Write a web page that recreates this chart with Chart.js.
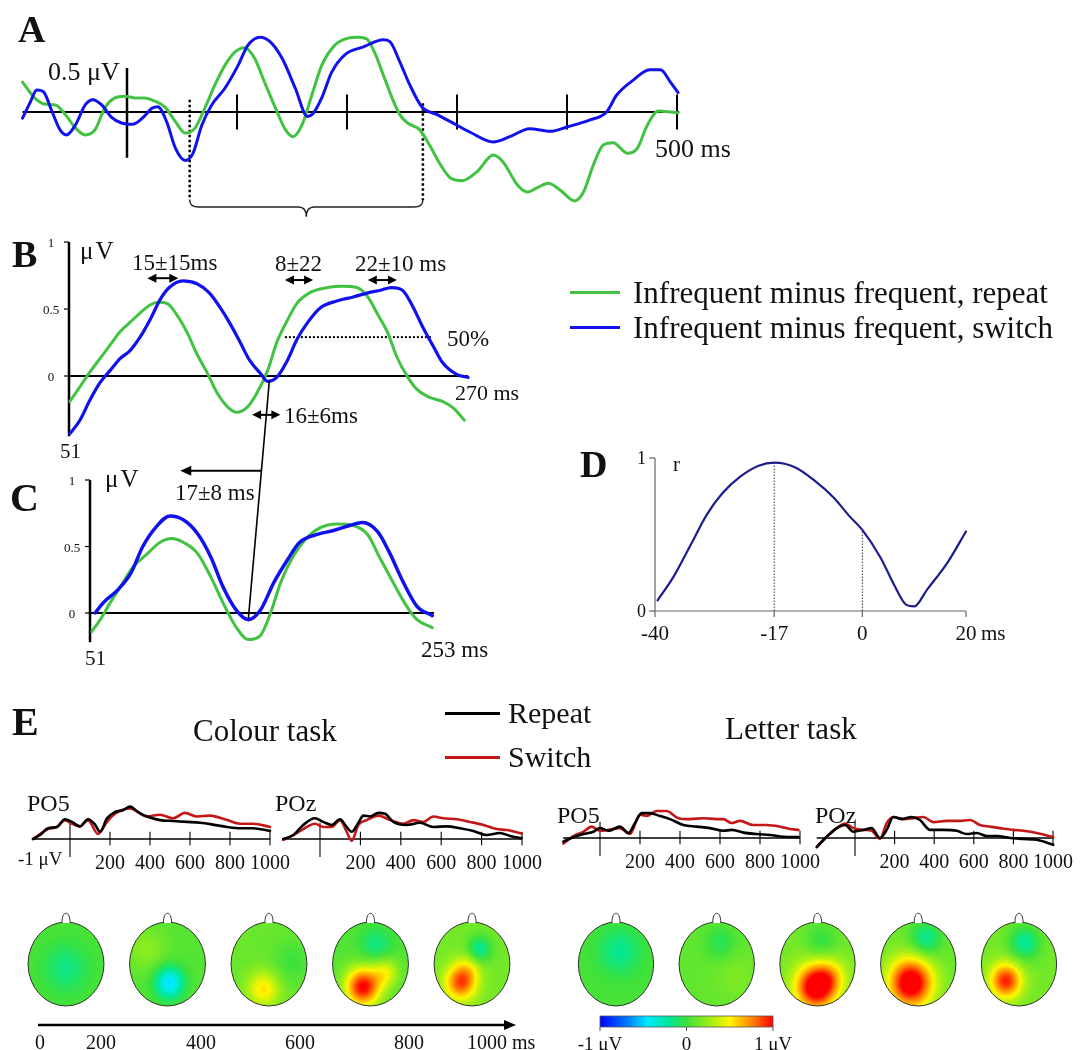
<!DOCTYPE html>
<html><head><meta charset="utf-8">
<script src="https://cdn.jsdelivr.net/npm/chart.js@4.4.0/dist/chart.umd.min.js"></script>
<style>
html,body{margin:0;padding:0;background:#fff;overflow:hidden;}
#stage{position:relative;width:1086px;height:1050px;overflow:hidden;font-family:"Liberation Serif","Times New Roman",serif;color:#111;}
#stage canvas{position:absolute;}
.t{position:absolute;white-space:nowrap;line-height:1;}
.sw{position:absolute;height:3px;}
</style></head>
<body><div id="stage"></div>
<script>
// ---------------- DATA ----------------
// Panel A (ms, µV)
const tA_repeat = [-95,-84,-75,-65,-56,-47,-38,-29,-20,-11,-2,7,16,25,35,44,53,62,71,80,89,98,107,116,125,135,144,151,159,168,177,189,201,210,218,225,233,241,248,255,266,275,285,294,305,318,333,342,355,364,373,383,394,407,415,424,433,442,455,464,473,483,494,501];
const vA_repeat = [0.34,0.16,0.09,0.08,-0.03,-0.18,-0.26,-0.2,0.05,0.16,0.18,0.16,0.16,0.125,0.05,-0.11,-0.24,-0.18,0.05,0.31,0.53,0.68,0.73,0.61,0.34,0.045,-0.2,-0.28,-0.15,0.19,0.53,0.76,0.84,0.85,0.83,0.68,0.42,0.16,-0.03,-0.125,-0.2,-0.375,-0.6,-0.75,-0.78,-0.68,-0.49,-0.57,-0.83,-0.91,-0.86,-0.81,-0.89,-1.01,-0.91,-0.6,-0.375,-0.35,-0.47,-0.41,-0.15,0.01,0,-0.01];
const tA_switch = [-95,-88,-82,-76,-68,-61,-55,-47,-38,-31,-23,-14,-5,5,14,23,28,36,44,53,60,68,77,89,101,110,121,130,141,153,164,169,177,186,198,215,233,239,248,257,268,282,294,312,333,348,366,385,400,421,436,445,460,475,485,494,501];
const vA_switch = [-0.07,0.11,0.25,0.23,0,-0.2,-0.26,-0.15,0.08,0.14,0.08,-0.06,-0.125,-0.14,-0.07,0.045,0.06,-0.11,-0.41,-0.55,-0.47,-0.15,0.08,0.27,0.53,0.76,0.85,0.8,0.61,0.27,-0.05,-0.02,0.16,0.45,0.65,0.74,0.82,0.8,0.57,0.31,0.06,-0.03,-0.11,-0.23,-0.34,-0.28,-0.19,-0.22,-0.17,-0.09,0,0.19,0.36,0.48,0.48,0.34,0.22];
const ticksA = [100,200,300,400,500];
const windowA = [57,269];

// Panel B
const tB_repeat = [51.5,57,62.5,68,73.5,79,84.5,90,95.5,100,105,110,116,121,127,132,138,143,149,154,160,165,171,176,183,193,201,209,215,220,226,231,237,242,249,256,262,268];
const vB_repeat = [-0.19,-0.08,0.03,0.13,0.23,0.33,0.4,0.47,0.53,0.55,0.54,0.46,0.32,0.17,0.02,-0.12,-0.23,-0.27,-0.23,-0.13,0.04,0.25,0.42,0.54,0.62,0.66,0.67,0.66,0.59,0.47,0.32,0.14,-0.01,-0.1,-0.16,-0.19,-0.24,-0.33];
const tB_switch = [51.5,57,62.5,68,73.5,79,84.5,90,95.5,101,106,113.5,121,128,134,139,145,150,156,160,165,171,176,182,189,198,207,215,222,228,234,240,245,251,256,264,270];
const vB_switch = [-0.43,-0.33,-0.18,-0.05,0.04,0.13,0.19,0.29,0.42,0.57,0.66,0.71,0.69,0.62,0.51,0.4,0.25,0.12,0.02,-0.04,-0.01,0.12,0.27,0.4,0.51,0.56,0.59,0.62,0.64,0.66,0.64,0.51,0.37,0.22,0.1,0.01,-0.01];
const yTicksBC = [0,0.5,1];
const halfMaxB = [169.5,250,0.29];
const arrowsB = [[94,111,0.73],[169.5,185,0.716],[215,231,0.716],[151.5,167,-0.29]];

// Panel C
const tC_repeat = [52,57,63,69,76,85,92,99,106,114,122,129,137,144,151,157,163,170,178,186,196,205,214,221,229,237,243,252];
const vC_repeat = [-0.14,-0.05,0.08,0.2,0.34,0.45,0.53,0.56,0.53,0.45,0.27,0.08,-0.11,-0.2,-0.17,0,0.23,0.42,0.56,0.64,0.67,0.66,0.59,0.42,0.23,0.05,-0.05,-0.11];
const tC_switch = [54,59,67,75,82,90,98,106,114,122,129,137,144,151,159,167,174,184,194,204,211,220,227,235,243,252];
const vC_switch = [0,0.08,0.17,0.3,0.5,0.65,0.73,0.7,0.6,0.42,0.2,0.02,-0.05,0.02,0.23,0.4,0.53,0.59,0.62,0.66,0.68,0.61,0.45,0.23,0.05,-0.02];

// Panel D (lag ms, r)
const lagD = [-39.5,-36.5,-33,-30,-27,-23.5,-20,-17,-13,-9.5,-5.5,-2.5,0,3.5,6,8.5,10,12.5,16.5,20];
const rD = [0.07,0.22,0.44,0.63,0.77,0.88,0.95,0.97,0.94,0.86,0.74,0.62,0.53,0.35,0.18,0.04,0.03,0.14,0.32,0.52];
const xTicksD = [-40,-17,0,20];
const yTicksD = [0,1];
const markersD = [[-17,0.97],[0,0.53]];

// Panel E waveforms (ms, µV)
const tE_cPO5_rep = [-185,-150,-110,-65,-25,10,50,90,125,150,185,225,265,300,340,385,450,515,585,650,715,785,850,915,1000];
const vE_cPO5_rep = [0,0.22,0.6,0.67,1.1,0.95,0.7,1.1,0.8,0.4,1.15,1.5,1.6,1.8,1.5,1.25,1.05,1.0,0.95,0.9,0.8,0.67,0.6,0.6,0.45];
const tE_cPO5_sw = [-185,-110,-65,-25,10,50,90,140,185,225,300,385,450,515,575,635,700,785,850,915,1000];
const vE_cPO5_sw = [0,0.55,0.67,1.05,0.85,0.7,1.05,0.28,0.95,1.4,1.7,1.25,1.35,1.15,1.45,1.25,1.3,1.05,0.85,0.85,0.67];
const tE_cPOz_rep = [-182,-132,-83,-25,16,58,99,132,157,190,215,248,289,322,363,429,495,561,627,693,759,825,891,941,998];
const vE_cPOz_rep = [0,0.22,0.78,1.15,0.95,0.78,1.1,0.67,0.4,0.9,1.3,1.25,1.45,1.4,0.95,0.78,0.9,0.67,0.7,0.6,0.45,0.22,0.33,0.17,0.05];
const tE_cPOz_sw = [-182,-132,-83,-25,16,58,99,132,157,190,231,289,347,413,462,512,561,611,677,743,809,875,924,998];
const vE_cPOz_sw = [-0.05,0.22,0.55,0.85,0.67,0.67,1.05,0.4,-0.1,0.78,1.05,1.3,1.05,0.85,1.05,0.95,1.25,1.15,1.1,0.95,0.78,0.55,0.5,0.3];
const tE_lPO5_rep = [-183,-133,-83,-33,0,42,100,142,175,208,250,300,350,417,483,550,617,658,717,783,850,917,992];
const vE_lPO5_rep = [-0.2,0.05,0.22,0.35,0.55,0.4,0.63,0.28,0.83,1.38,1.38,1.22,1.05,0.72,0.63,0.55,0.4,0.45,0.3,0.22,0.17,0.07,0.05];
const tE_lPO5_sw = [-183,-133,-83,-42,0,42,100,150,200,233,283,333,392,450,517,583,617,658,700,767,833,900,950,992];
const vE_lPO5_sw = [-0.3,0.1,0.35,0.63,0.4,0.45,0.55,0.22,1.3,1.22,1.5,1.5,1.1,1.05,1.1,1.05,1.05,0.83,0.95,0.72,0.72,0.63,0.5,0.45];
const tE_lPOz_rep = [-193,-143,-92,-50,-8,42,84,126,160,193,236,286,328,379,446,514,564,615,665,716,783,850,918,1001];
const vE_lPOz_rep = [-0.5,0.07,0.55,0.72,0.35,0.45,0.55,0,0.45,1.17,1.05,1.17,1.0,0.45,0.45,0.4,0.22,0.28,0.11,0.11,0,-0.05,-0.1,-0.38];
const tE_lPOz_sw = [-193,-143,-92,-50,-8,42,84,126,160,193,244,295,345,396,463,530,581,631,682,732,800,850,918,1001];
const vE_lPOz_sw = [-0.5,0.07,0.55,0.8,0.55,0.45,0.4,-0.05,0.83,1.17,1.05,1.1,1.17,0.88,0.95,0.95,1.0,0.72,0.63,0.55,0.45,0.4,0.28,0.05];
const ticksE = [200,400,600,800,1000];

// Panel E topographies: base level + blobs [x, y, spread, amplitude] (head coords, µV)
const topoColourBase = [0.04,0.07,0.12,0.06,0.15];
const topoColourBlobs = [
  [[0.0,-0.1,0.4,-0.2]],
  [[0.05,-0.45,0.27,-0.55],[-0.55,0.35,0.35,0.15]],
  [[-0.15,-0.6,0.3,0.42],[0.6,0.05,0.35,-0.12]],
  [[-0.2,-0.55,0.33,0.95],[0.4,-0.2,0.25,0.35],[0.15,0.45,0.3,-0.22]],
  [[-0.3,-0.45,0.3,0.7],[-0.1,-0.1,0.25,0.2],[0.2,0.35,0.22,-0.36]]
];
const topoLetterBase = [0.03,0.1,0.15,0.12,0.15];
const topoLetterBlobs = [
  [[0.1,0.3,0.38,-0.22]],
  [[0.1,0.5,0.28,-0.17],[0.5,-0.3,0.4,0.08]],
  [[-0.05,-0.55,0.38,1.0],[0.35,-0.3,0.3,0.3],[0.1,0.55,0.3,-0.18]],
  [[-0.2,-0.45,0.42,1.05],[0.2,0.6,0.28,-0.32]],
  [[-0.35,-0.4,0.3,0.8],[0.15,0.5,0.28,-0.36]]
];
const timeAxisLabels = ['0','200','400','600','800','1000 ms'];

// ---------------- STYLE ----------------
const GREEN = '#42c242', BLUE = '#1111ee', RED = '#c41818', BLACK = '#000', NAVY = '#1c1c8c';
const cmapStops = [[-1,[0,0,255]],[-0.65,[0,140,255]],[-0.45,[0,235,255]],[-0.2,[0,232,150]],[0,[60,225,60]],[0.3,[170,240,20]],[0.5,[255,245,0]],[0.75,[255,135,0]],[1,[255,0,0]]];
function jet(v){
  v = Math.max(-1, Math.min(1, v));
  for (let i=1;i<cmapStops.length;i++){
    if (v <= cmapStops[i][0]){
      const a = cmapStops[i-1], b = cmapStops[i], f = (v-a[0])/(b[0]-a[0]);
      return [0,1,2].map(k => Math.round(a[1][k] + f*(b[1][k]-a[1][k])));
    }
  }
  return cmapStops[cmapStops.length-1][1];
}

const stage = document.getElementById('stage');
const PAD = 14;
function makeChart(m, datasets, draw) {
  const L = m.x0 + m.xmin*m.xs, R = m.x0 + m.xmax*m.xs;
  const T = m.y0 - m.ymax*m.ys, B = m.y0 - m.ymin*m.ys;
  const left = Math.round(L - PAD), top = Math.round(T - PAD);
  const w = Math.round(R + PAD) - left, h = Math.round(B + PAD) - top;
  const cv = document.createElement('canvas');
  cv.width = w; cv.height = h;
  cv.style.left = left+'px'; cv.style.top = top+'px'; cv.style.width = w+'px'; cv.style.height = h+'px';
  stage.appendChild(cv);
  const padding = {left: L-left, top: T-top, right: left+w-R, bottom: top+h-B};
  const plug = [];
  if (draw) plug.push({id:'deco', beforeDatasetsDraw(c){ const X=v=>c.scales.x.getPixelForValue(v), Y=v=>c.scales.y.getPixelForValue(v); c.ctx.save(); draw(c.ctx,X,Y,c); c.ctx.restore(); }});
  const chart = new Chart(cv, {type:'line', data:{datasets}, options:{
    responsive:false, animation:false, events:[], devicePixelRatio:1,
    layout:{padding},
    plugins:{legend:{display:false}, tooltip:{enabled:false}},
    scales:{x:{type:'linear',display:false,min:m.xmin,max:m.xmax}, y:{type:'linear',display:false,min:m.ymin,max:m.ymax}}
  }, plugins: plug});
  chart.pageX = v => left + chart.scales.x.getPixelForValue(v);
  chart.pageY = v => top + chart.scales.y.getPixelForValue(v);
  return chart;
}
function series(ts, vs, color, width){
  return {data: ts.map((t,i)=>({x:t, y:vs[i]})), borderColor: color, borderWidth: width, pointRadius:0,
    fill:false, cubicInterpolationMode:'monotone', clip:false, borderJoinStyle:'round', borderCapStyle:'round'};
}
function ln(ctx,x1,y1,x2,y2,w,color,dash){
  ctx.beginPath(); ctx.setLineDash(dash||[]); ctx.lineWidth=w; ctx.strokeStyle=color||'#000';
  ctx.moveTo(x1,y1); ctx.lineTo(x2,y2); ctx.stroke(); ctx.setLineDash([]);
}
function head(ctx,x,y,dir,len,hw){
  ctx.beginPath(); ctx.moveTo(x,y); ctx.lineTo(x-dir*len,y-hw); ctx.lineTo(x-dir*len,y+hw); ctx.closePath(); ctx.fillStyle='#000'; ctx.fill();
}
function dblArrow(ctx,x1,x2,y){
  ln(ctx,x1+6,y,x2-6,y,2);
  head(ctx,x1,y,-1,9,4.5); head(ctx,x2,y,1,9,4.5);
}
function label(text,x,y,size,o){
  o = o||{};
  const d = document.createElement('div'); d.className='t'; d.textContent=text;
  d.style.left=x+'px'; d.style.top=y+'px'; d.style.fontSize=size+'px';
  const tx = o.align==='center' ? '-50%' : o.align==='right' ? '-100%' : '0';
  d.style.transform = `translate(${tx},-50%)`;
  if (o.bold) d.style.fontWeight='bold';
  if (o.ls) d.style.letterSpacing=o.ls+'px';
  stage.appendChild(d); return d;
}
function swatch(x1,x2,y,color){
  const d=document.createElement('div'); d.className='sw';
  d.style.left=x1+'px'; d.style.top=(y-1.5)+'px'; d.style.width=(x2-x1)+'px'; d.style.background=color;
  stage.appendChild(d);
}

// ---------------- PANEL A ----------------
const chartA = makeChart({xmin:-95,xmax:505,ymin:-1.25,ymax:0.9,x0:127,xs:1.1,y0:112,ys:88},
  [series(tA_switch,vA_switch,BLUE,3), series(tA_repeat,vA_repeat,GREEN,3)],
  (ctx,X,Y)=>{
    ln(ctx,X(-95),Y(0),X(502),Y(0),2.2);
    ln(ctx,X(0),Y(0.5),X(0),Y(-0.52),2.5);
    ticksA.forEach(t=>ln(ctx,X(t),Y(0.2),X(t),Y(-0.2),2));
    ln(ctx,X(windowA[0]),Y(0.14),X(windowA[0]),Y(-1.0),2.5,'#000',[2.5,2.5]);
    ln(ctx,X(windowA[1]),Y(0.1),X(windowA[1]),Y(-1.0),2.5,'#000',[2.5,2.5]);
    const a=windowA[0], b=windowA[1], mid=(a+b)/2, yb=Y(-1.08);
    ctx.beginPath(); ctx.lineWidth=1.4; ctx.strokeStyle='#222';
    ctx.moveTo(X(a),Y(-1.0)); ctx.quadraticCurveTo(X(a),yb,X(a)+9,yb); ctx.lineTo(X(mid)-8,yb);
    ctx.quadraticCurveTo(X(mid),yb,X(mid),Y(-1.19)); ctx.quadraticCurveTo(X(mid),yb,X(mid)+8,yb);
    ctx.lineTo(X(b)-9,yb); ctx.quadraticCurveTo(X(b),yb,X(b),Y(-1.0)); ctx.stroke();
  });

// ---------------- PANEL B ----------------
const chartB = makeChart({xmin:51,xmax:272,ymin:-0.45,ymax:1.0,x0:69-51*1.822,xs:1.822,y0:376,ys:134},
  [series(tB_switch,vB_switch,BLUE,3.2), series(tB_repeat,vB_repeat,GREEN,3)],
  (ctx,X,Y)=>{
    ln(ctx,X(51),Y(1),X(51),Y(-0.45),2.5);
    yTicksBC.forEach(v=>ln(ctx,X(51)-5,Y(v),X(51),Y(v),1.2));
    ln(ctx,X(51),Y(0),X(270),Y(0),2);
    ln(ctx,X(halfMaxB[0]),Y(halfMaxB[2]),X(halfMaxB[1]),Y(halfMaxB[2]),2,'#000',[2,2]);
    arrowsB.forEach(a=>dblArrow(ctx,X(a[0]),X(a[1]),Y(a[2])));
  });

// ---------------- PANEL C ----------------
const chartC = makeChart({xmin:51,xmax:253,ymin:-0.22,ymax:1.1,x0:90-51*1.703,xs:1.703,y0:613,ys:133},
  [series(tC_switch,vC_switch,BLUE,3.5), series(tC_repeat,vC_repeat,GREEN,3)],
  (ctx,X,Y)=>{
    ln(ctx,X(51),Y(1),X(51),Y(-0.22),2.5);
    yTicksBC.forEach(v=>ln(ctx,X(51)-5,Y(v),X(51),Y(v),1.2));
    ln(ctx,X(51),Y(0),X(253),Y(0),2);
  });

// ---------------- PANEL D ----------------
const chartD = makeChart({xmin:-40,xmax:20,ymin:0,ymax:1.0,x0:655+40*5.183,xs:5.183,y0:611,ys:153},
  [series(lagD,rD,NAVY,2.2)],
  (ctx,X,Y)=>{
    ln(ctx,X(-40),Y(0),X(20),Y(0),1.2,'#666');
    ln(ctx,X(-40),Y(0),X(-40),Y(1),1.2,'#666');
    xTicksD.forEach(t=>ln(ctx,X(t),Y(0),X(t),Y(0)+6,1.2,'#666'));
    yTicksD.forEach(v=>ln(ctx,X(-40)-6,Y(v),X(-40),Y(v),1.2,'#666'));
    markersD.forEach(mk=>ln(ctx,X(mk[0]),Y(0),X(mk[0]),Y(mk[1]),1,'#333',[1.5,1.5]));
  });

// ---------------- PANEL E waveforms ----------------
function drawE(ctx,X,Y,c){
  const xmin=c.scales.x.min;
  ln(ctx,X(xmin),Y(0),X(1000),Y(0),1.6);
  ln(ctx,X(0),Y(0.9),X(0),Y(-1),1.1);
  ticksE.forEach(t=>ln(ctx,X(t),Y(0.4),X(t),Y(-0.35),1.1));
}
const eCharts = [
  makeChart({xmin:-185,xmax:1000,ymin:-1,ymax:1.9,x0:70,xs:0.2,y0:839,ys:18},
    [series(tE_cPO5_rep,vE_cPO5_rep,BLACK,2.6), series(tE_cPO5_sw,vE_cPO5_sw,RED,2.6)], drawE),
  makeChart({xmin:-183,xmax:1000,ymin:-1,ymax:1.9,x0:320,xs:0.202,y0:839,ys:18},
    [series(tE_cPOz_rep,vE_cPOz_rep,BLACK,2.6), series(tE_cPOz_sw,vE_cPOz_sw,RED,2.6)], drawE),
  makeChart({xmin:-185,xmax:1000,ymin:-1,ymax:1.9,x0:600,xs:0.2,y0:838,ys:18},
    [series(tE_lPO5_rep,vE_lPO5_rep,BLACK,2.6), series(tE_lPO5_sw,vE_lPO5_sw,RED,2.6)], drawE),
  makeChart({xmin:-193,xmax:1002,ymin:-1,ymax:1.9,x0:855,xs:0.198,y0:838,ys:18},
    [series(tE_lPOz_rep,vE_lPOz_rep,BLACK,2.6), series(tE_lPOz_sw,vE_lPOz_sw,RED,2.6)], drawE)
];

// ---------------- PANEL E topographies ----------------
const HW = 0.374;
function drawTopo(base, blobs){
  return (ctx,X,Y,c)=>{
    for (let i=0;i<base.length;i++){
      const cx=X(i), cy=Y(0), rx=X(i+HW)-X(i), ry=Y(0)-Y(1);
      const x0=Math.floor(cx-rx)-1, y0=Math.floor(cy-ry)-1, w=Math.ceil(2*rx)+3, h=Math.ceil(2*ry)+3;
      const off=document.createElement('canvas'); off.width=w; off.height=h;
      const octx=off.getContext('2d'); const img=octx.createImageData(w,h);
      for (let py=0;py<h;py++) for (let px=0;px<w;px++){
        const u=(c.scales.x.getValueForPixel(x0+px+0.5)-i)/HW, v=c.scales.y.getValueForPixel(y0+py+0.5);
        if (u*u+v*v>1.0) continue;
        let val=base[i];
        for (const b of blobs[i]){ const d2=(u-b[0])**2+(v-b[1])**2; val+=b[3]*Math.exp(-d2/(2*b[2]*b[2])); }
        const col=jet(val), k=(py*w+px)*4;
        img.data[k]=col[0]; img.data[k+1]=col[1]; img.data[k+2]=col[2]; img.data[k+3]=255;
      }
      octx.putImageData(img,0,0); ctx.drawImage(off,x0,y0);
      ctx.beginPath(); ctx.ellipse(cx,cy,rx,ry,0,0,2*Math.PI); ctx.lineWidth=1; ctx.strokeStyle='#333'; ctx.stroke();
      ctx.beginPath(); ctx.moveTo(cx-4,cy-ry+1); ctx.bezierCurveTo(cx-4.5,cy-ry-12,cx+4.5,cy-ry-12,cx+4,cy-ry+1);
      ctx.fillStyle='#fff'; ctx.fill(); ctx.lineWidth=1; ctx.stroke();
    }
  };
}
makeChart({xmin:-0.45,xmax:4.45,ymin:-1,ymax:1.3,x0:66,xs:101.5,y0:964,ys:42}, [], drawTopo(topoColourBase,topoColourBlobs));
makeChart({xmin:-0.45,xmax:4.45,ymin:-1,ymax:1.3,x0:616,xs:100.75,y0:964,ys:42}, [], drawTopo(topoLetterBase,topoLetterBlobs));

// colour bar
const chartBar = makeChart({xmin:-1,xmax:1,ymin:0,ymax:1,x0:686.5,xs:86.5,y0:1027,ys:11}, [], (ctx,X,Y,c)=>{
  for (let px=Math.floor(X(-1)); px<Math.ceil(X(1)); px++){
    const col=jet(c.scales.x.getValueForPixel(px+0.5));
    ctx.fillStyle=`rgb(${col[0]},${col[1]},${col[2]})`; ctx.fillRect(px,Y(1),1,Y(0)-Y(1));
  }
  ctx.lineWidth=0.8; ctx.strokeStyle='#555'; ctx.strokeRect(X(-1),Y(1),X(1)-X(-1),Y(0)-Y(1));
  [-1,0,1].forEach(v=>ln(ctx,X(v),Y(0),X(v),Y(0)+4,1,'#555'));
});

// ---------------- overlay: connector B -> C ----------------
const svgNS='http://www.w3.org/2000/svg';
const svg=document.createElementNS(svgNS,'svg');
svg.setAttribute('width','1086'); svg.setAttribute('height','1050');
svg.style.cssText='position:absolute;left:0;top:0;';
stage.appendChild(svg);
function sline(x1,y1,x2,y2,w){ const l=document.createElementNS(svgNS,'line'); l.setAttribute('x1',x1); l.setAttribute('y1',y1); l.setAttribute('x2',x2); l.setAttribute('y2',y2); l.setAttribute('stroke','#000'); l.setAttribute('stroke-width',w); svg.appendChild(l); }
function spoly(pts){ const p=document.createElementNS(svgNS,'polygon'); p.setAttribute('points',pts.map(q=>q.join(',')).join(' ')); p.setAttribute('fill','#000'); svg.appendChild(p); }
const p1=[chartB.pageX(161),chartB.pageY(-0.03)], p2=[chartC.pageX(144),chartC.pageY(-0.04)];
sline(p1[0],p1[1],p2[0],p2[1],1.6);
const ya=chartC.pageY(1.07), xa=p1[0]+(p2[0]-p1[0])*(ya-p1[1])/(p2[1]-p1[1]), xe=chartC.pageX(104);
sline(xa,ya,xe+8,ya,2); spoly([[xe,ya],[xe+11,ya-5],[xe+11,ya+5]]);
// time arrow under colour maps
sline(38,1025,506,1025,2.5); spoly([[516,1025],[504,1020],[504,1030]]);

// ---------------- TEXT ----------------
label('A',18,29,38,{bold:true});
label('0.5 \u03bcV',48,72,26);
label('500 ms',655,149,26);
label('B',12,254,38,{bold:true});
label('\u03bcV',80,250,25,{ls:2});
label('15\u00b115ms',132,262,23);
label('8\u00b122',275,263,23);
label('22\u00b110 ms',355,263,23);
label('50%',447,338,23);
label('270 ms',455,393,22);
label('16\u00b16ms',284,415,23);
label('51',60,451,21);
label('17\u00b18 ms',175,492,23);
label('C',10,498,40,{bold:true});
label('\u03bcV',105,478,25,{ls:2});
label('51',85,658,21);
label('253 ms',421,649,23);
yTicksBC.forEach(v=>{ label(String(v),chartB.pageX(51)-18,chartB.pageY(v),13,{align:'center'}); label(String(v),chartC.pageX(51)-18,chartC.pageY(v),13,{align:'center'}); });

label('D',580,464,38,{bold:true});
label('r',673,464,21);
xTicksD.forEach(t=>label(String(t),chartD.pageX(t),chartD.pageY(0)+22,21,{align:'center'}));
label('ms',chartD.pageX(20)+15,chartD.pageY(0)+22,21);
yTicksD.forEach(v=>label(String(v),chartD.pageX(-40)-9,chartD.pageY(v),18,{align:'right'}));

swatch(570,620,292,GREEN); swatch(570,620,327,BLUE);
label('Infrequent minus frequent, repeat',633,292,31);
label('Infrequent minus frequent, switch',633,327,31);

label('E',12,722,40,{bold:true});
label('Colour task',193,730,31);
label('Letter task',725,728,31);
swatch(445,500,713,BLACK); swatch(445,500,757,RED);
label('Repeat',508,713,30);
label('Switch',508,757,30);
label('PO5',27,803,24); label('POz',275,803,24); label('PO5',557,815,24); label('POz',815,815,24);
label('-1 \u03bcV',18,858,19);
eCharts.forEach(c=>ticksE.forEach(t=>label(String(t),c.pageX(t),c.pageY(0)+23,20,{align:'center'})));

const timeAxisX=[40,101,201,300,409];
timeAxisLabels.slice(0,5).forEach((s,i)=>label(s,timeAxisX[i],1042,20,{align:'center'}));
label(timeAxisLabels[5],467,1042,20);
label('-1 \u03bcV',chartBar.pageX(-1),1043,19,{align:'center'});
label('0',chartBar.pageX(0),1043,19,{align:'center'});
label('1 \u03bcV',chartBar.pageX(1),1043,19,{align:'center'});
</script>
</body></html>
